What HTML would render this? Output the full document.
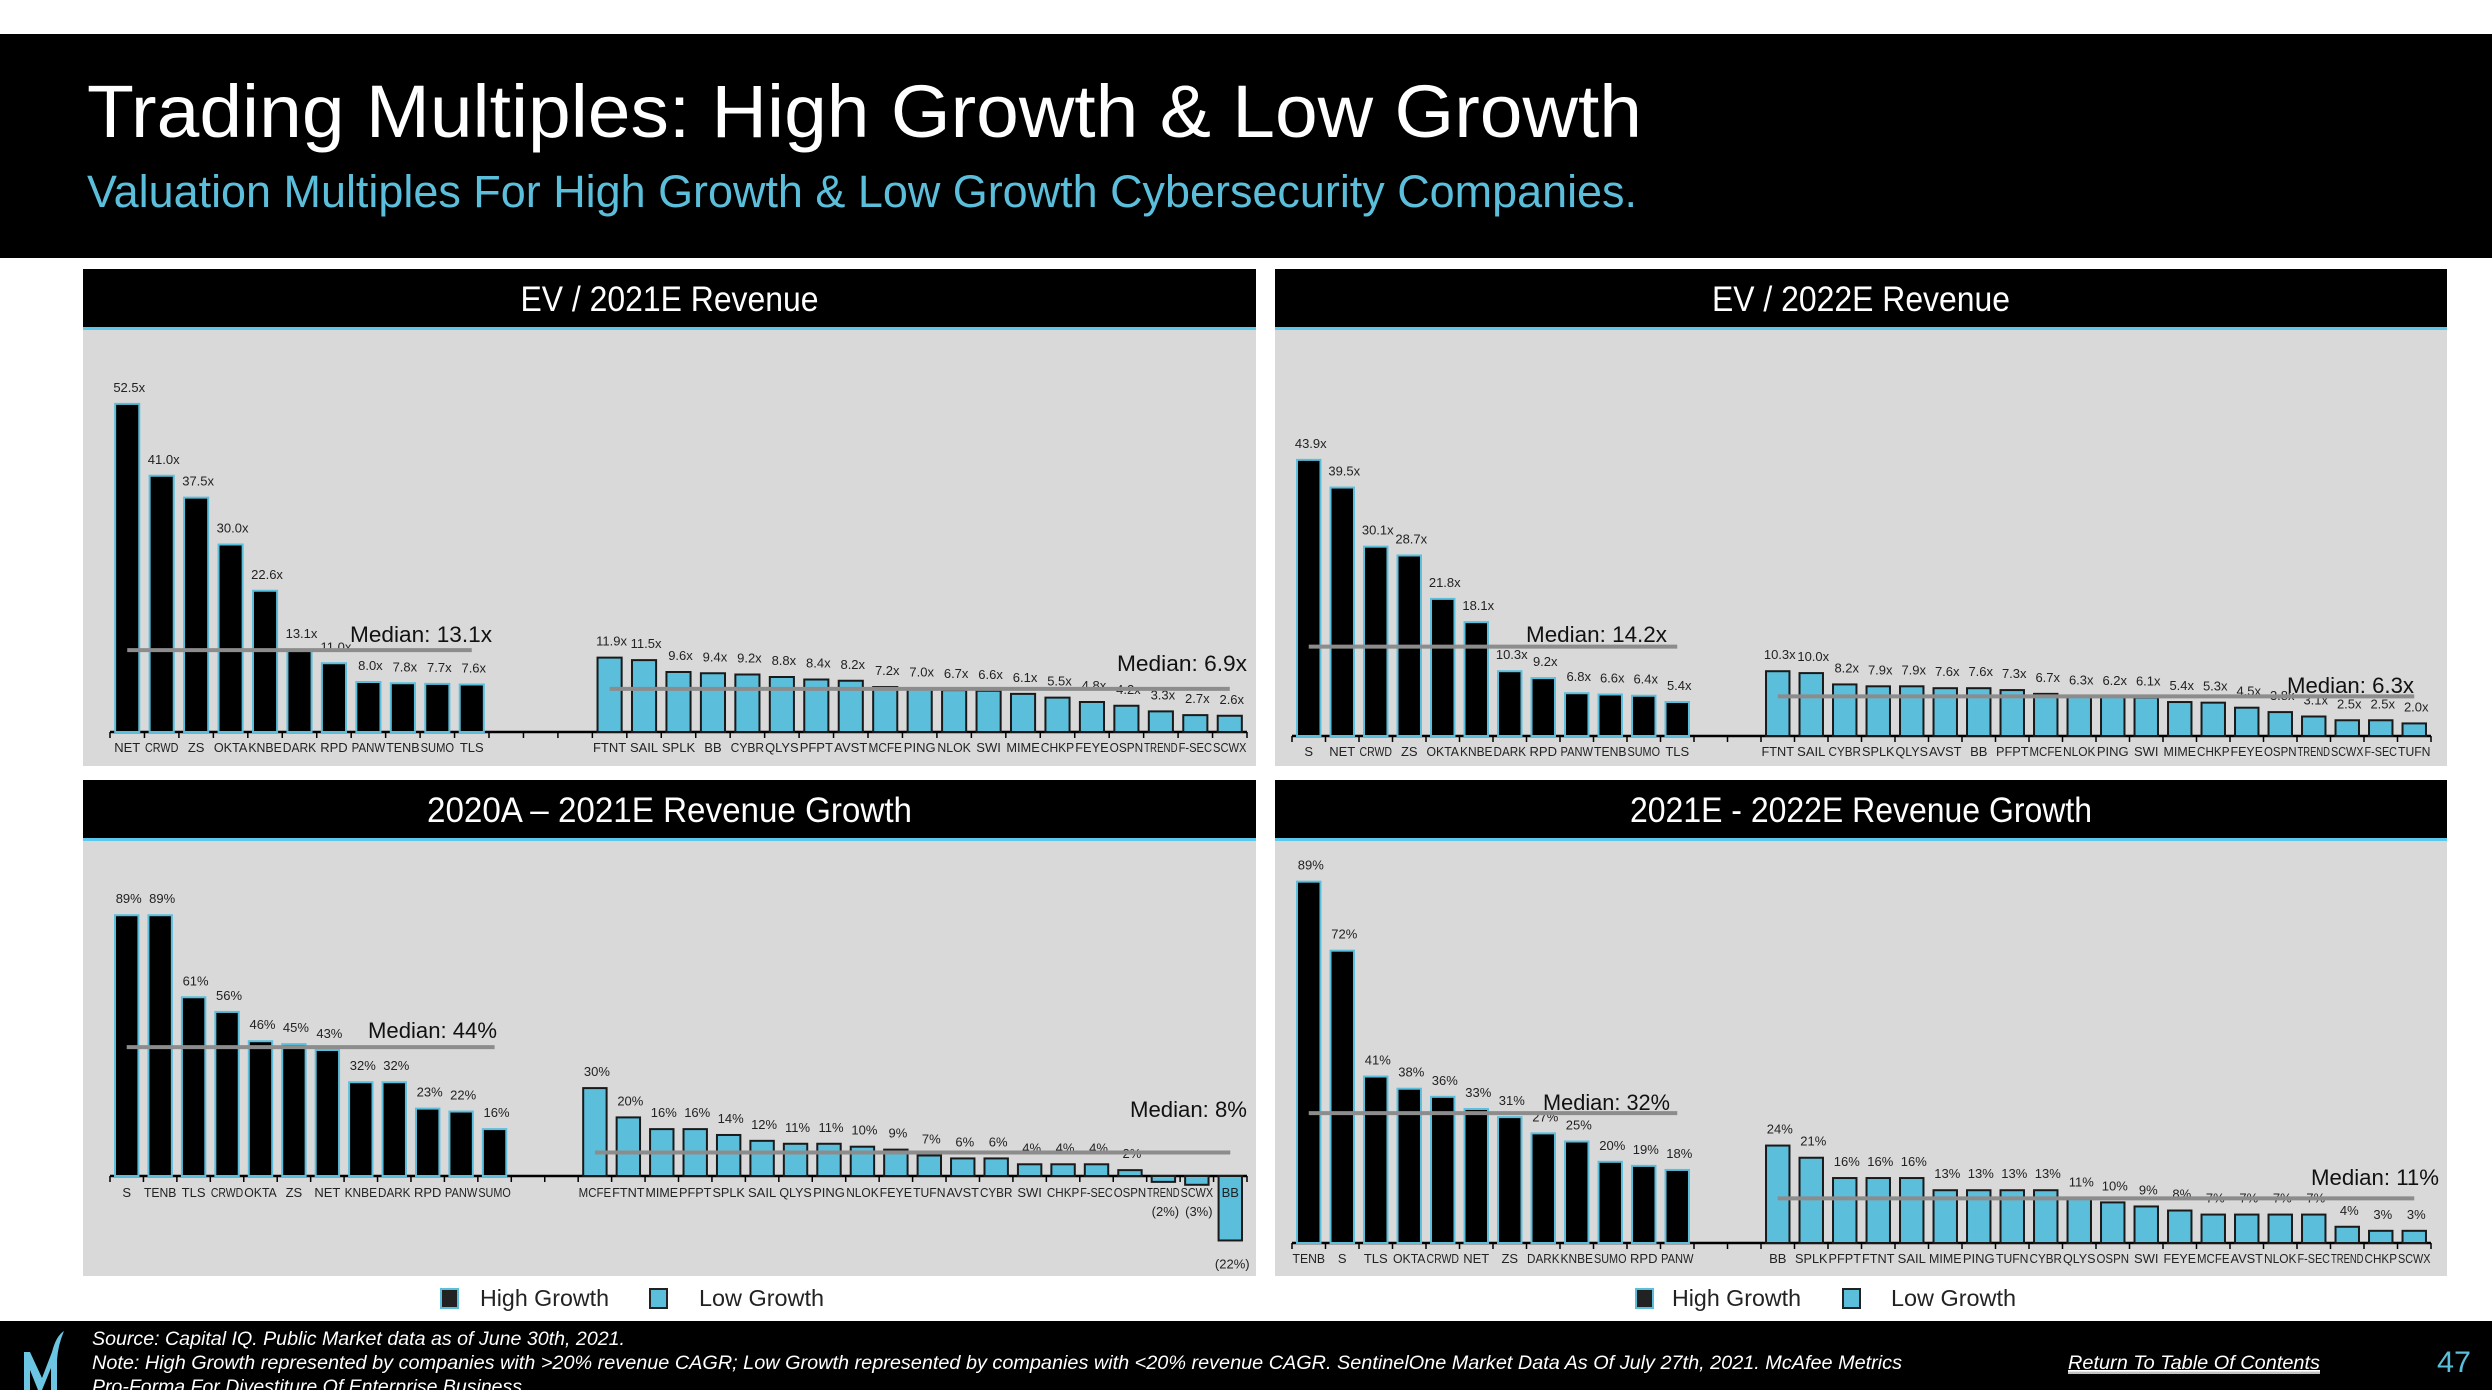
<!DOCTYPE html>
<html><head><meta charset="utf-8"><style>
html,body{margin:0;padding:0;background:#fff;}
svg{display:block;font-family:"Liberation Sans",sans-serif;}
</style></head>
<body>
<svg id="root" width="2492" height="1390" viewBox="0 0 2492 1390" xmlns="http://www.w3.org/2000/svg">
  <rect x="0" y="0" width="2492" height="1390" fill="#fff"/>
  <g>
    <rect x="0" y="34" width="2492" height="224" fill="#000"/>
    <text x="87" y="137" font-size="74" fill="#fff" textLength="1555" lengthAdjust="spacingAndGlyphs">Trading Multiples: High Growth &amp; Low Growth</text>
    <text x="87" y="207" font-size="45" fill="#5bbfdc" textLength="1550" lengthAdjust="spacingAndGlyphs">Valuation Multiples For High Growth &amp; Low Growth Cybersecurity Companies.</text>
  </g>
  <g id="panels"></g>
  <g>
    <rect x="441" y="1289" width="17" height="19" fill="#222" stroke="#5bbfdc" stroke-width="2"/>
    <text x="480" y="1306" font-size="23" fill="#222" textLength="129" lengthAdjust="spacingAndGlyphs">High Growth</text>
    <rect x="650" y="1289" width="17" height="19" fill="#5bbfdc" stroke="#222" stroke-width="2"/>
    <text x="699" y="1306" font-size="23" fill="#222" textLength="125" lengthAdjust="spacingAndGlyphs">Low Growth</text>
  </g>
  <g>
    <rect x="1636" y="1289" width="17" height="19" fill="#222" stroke="#5bbfdc" stroke-width="2"/>
    <text x="1672" y="1306" font-size="23" fill="#222" textLength="129" lengthAdjust="spacingAndGlyphs">High Growth</text>
    <rect x="1843" y="1289" width="17" height="19" fill="#5bbfdc" stroke="#222" stroke-width="2"/>
    <text x="1891" y="1306" font-size="23" fill="#222" textLength="125" lengthAdjust="spacingAndGlyphs">Low Growth</text>
  </g>
  <g>
    <rect x="0" y="1321" width="2492" height="69" fill="#000"/>
    <g>
      <path d="M24 1390 L24 1352 L30 1352 L42 1378 L52 1352 Q56 1336 64 1331 Q58 1345 57 1360 L57 1390 L51 1390 L51 1368 L42 1390 L38 1390 L30 1370 L30 1390 Z" fill="#6cc5e3"/>
    </g>
    <text x="92" y="1345" font-size="19" font-style="italic" fill="#fff" textLength="533" lengthAdjust="spacingAndGlyphs">Source: Capital IQ. Public Market data as of  June 30th, 2021.</text>
    <text x="92" y="1369" font-size="19" font-style="italic" fill="#fff" textLength="1810" lengthAdjust="spacingAndGlyphs">Note: High Growth represented by companies with &gt;20% revenue CAGR; Low Growth represented by companies with &lt;20% revenue CAGR. SentinelOne Market Data As Of July 27th, 2021. McAfee Metrics</text>
    <text x="92" y="1393" font-size="19" font-style="italic" fill="#fff" textLength="430" lengthAdjust="spacingAndGlyphs">Pro-Forma For Divestiture Of Enterprise Business</text>
    <text x="2068" y="1369" font-size="19" font-style="italic" fill="#fff" text-decoration="underline" textLength="252" lengthAdjust="spacingAndGlyphs">Return To Table Of Contents</text>
    <line x1="2068" y1="1373" x2="2320" y2="1373" stroke="#fff" stroke-width="1.5"/>
    <text x="2437" y="1372" font-size="30" fill="#5bbfdc" textLength="34" lengthAdjust="spacingAndGlyphs">47</text>
  </g>
</svg>
<script>
// ---- Data ----
const ev21HighCats = ["NET","CRWD","ZS","OKTA","KNBE","DARK","RPD","PANW","TENB","SUMO","TLS"];
const ev21HighVals = [52.5,41.0,37.5,30.0,22.6,13.1,11.0,8.0,7.8,7.7,7.6];
const ev21LowCats = ["FTNT","SAIL","SPLK","BB","CYBR","QLYS","PFPT","AVST","MCFE","PING","NLOK","SWI","MIME","CHKP","FEYE","OSPN","TREND","F-SEC","SCWX"];
const ev21LowVals = [11.9,11.5,9.6,9.4,9.2,8.8,8.4,8.2,7.2,7.0,6.7,6.6,6.1,5.5,4.8,4.2,3.3,2.7,2.6];
const ev21Medians = [13.1,6.9];

const ev22HighCats = ["S","NET","CRWD","ZS","OKTA","KNBE","DARK","RPD","PANW","TENB","SUMO","TLS"];
const ev22HighVals = [43.9,39.5,30.1,28.7,21.8,18.1,10.3,9.2,6.8,6.6,6.4,5.4];
const ev22LowCats = ["FTNT","SAIL","CYBR","SPLK","QLYS","AVST","BB","PFPT","MCFE","NLOK","PING","SWI","MIME","CHKP","FEYE","OSPN","TREND","SCWX","F-SEC","TUFN"];
const ev22LowVals = [10.3,10.0,8.2,7.9,7.9,7.6,7.6,7.3,6.7,6.3,6.2,6.1,5.4,5.3,4.5,3.8,3.1,2.5,2.5,2.0];
const ev22Medians = [14.2,6.3];

const g21HighCats = ["S","TENB","TLS","CRWD","OKTA","ZS","NET","KNBE","DARK","RPD","PANW","SUMO"];
const g21HighVals = [89,89,61,56,46,45,43,32,32,23,22,16];
const g21LowCats = ["MCFE","FTNT","MIME","PFPT","SPLK","SAIL","QLYS","PING","NLOK","FEYE","TUFN","AVST","CYBR","SWI","CHKP","F-SEC","OSPN","TREND","SCWX","BB"];
const g21LowVals = [30,20,16,16,14,12,11,11,10,9,7,6,6,4,4,4,2,-2,-3,-22];
const g21Medians = [44,8];

const g22HighCats = ["TENB","S","TLS","OKTA","CRWD","NET","ZS","DARK","KNBE","SUMO","RPD","PANW"];
const g22HighVals = [89,72,41,38,36,33,31,27,25,20,19,18];
const g22LowCats = ["BB","SPLK","PFPT","FTNT","SAIL","MIME","PING","TUFN","CYBR","QLYS","OSPN","SWI","FEYE","MCFE","AVST","NLOK","F-SEC","TREND","CHKP","SCWX"];
const g22LowVals = [24,21,16,16,16,13,13,13,13,11,10,9,8,7,7,7,7,4,3,3];
const g22Medians = [32,11];

const NS = "http://www.w3.org/2000/svg";
function mk(tag, attrs, parent){ const e=document.createElementNS(NS,tag); for(const k in attrs) e.setAttribute(k,attrs[k]); parent.appendChild(e); return e; }

const panels = [
 {name:"ev-2021e-revenue", title:"EV / 2021E Revenue", px:83, pw:1173, ty:269, bottom:766, tlen:298,
  ax0:110, ax1:1247, base:732, ppu:6.25, gap:3, hc:ev21HighCats, hv:ev21HighVals, lc:ev21LowCats, lv:ev21LowVals, med:ev21Medians, fmt:"x",
  mlab:[[350,642,142],[1117,671,130]], catY:752},
 {name:"ev-2022e-revenue", title:"EV / 2022E Revenue", px:1275, pw:1172, ty:269, bottom:766, tlen:298,
  ax0:1292, ax1:2431, base:736, ppu:6.29, gap:2, hc:ev22HighCats, hv:ev22HighVals, lc:ev22LowCats, lv:ev22LowVals, med:ev22Medians, fmt:"x",
  mlab:[[1526,642,141],[2287,693,127]], catY:756},
 {name:"revenue-growth-2020a-2021e", title:"2020A \u2013 2021E Revenue Growth", px:83, pw:1173, ty:780, bottom:1276, tlen:485,
  ax0:110, ax1:1247, base:1176, ppu:2.93, gap:2, hc:g21HighCats, hv:g21HighVals, lc:g21LowCats, lv:g21LowVals, med:g21Medians, fmt:"%",
  mlab:[[368,1038,129],[1130,1117,117]], catY:1197},
 {name:"revenue-growth-2021e-2022e", title:"2021E - 2022E Revenue Growth", px:1275, pw:1172, ty:780, bottom:1276, tlen:462,
  ax0:1292, ax1:2431, base:1243, ppu:4.06, gap:2, hc:g22HighCats, hv:g22HighVals, lc:g22LowCats, lv:g22LowVals, med:g22Medians, fmt:"%",
  mlab:[[1543,1110,127],[2311,1185,128]], catY:1263}
];

function fmtVal(v,f){
  if(f==="x") return v.toFixed(1)+"x";
  return v<0 ? "("+Math.abs(v)+"%)" : v+"%";
}

const root = document.getElementById("panels");
panels.forEach(p=>{
  const g = mk("g",{},root);
  
  
  mk("rect",{x:p.px,y:p.ty,width:p.pw,height:p.bottom-p.ty,fill:"#d9d9d9"},g);
  mk("rect",{x:p.px,y:p.ty,width:p.pw,height:58,fill:"#000"},g);
  mk("rect",{x:p.px,y:p.ty+58,width:p.pw,height:3,fill:"#5bc8ee"},g);
  const t = mk("text",{x:p.px+p.pw/2,y:p.ty+42,"font-size":35,fill:"#fff","text-anchor":"middle",textLength:p.tlen,lengthAdjust:"spacingAndGlyphs"},g);
  t.textContent = p.title;
  
  

  const cats = p.hc.concat(new Array(p.gap).fill(""), p.lc);
  const vals = p.hv.concat(new Array(p.gap).fill(null), p.lv);
  const n = cats.length;
  const slot = (p.ax1-p.ax0)/n;
  const xC = i => p.ax0 + (i+0.5)*slot;
  const yV = v => p.base - v*p.ppu;
  const bw = slot*0.7;

  // axis
  const ax = mk("line",{x1:p.ax0,y1:p.base,x2:p.ax1,y2:p.base,stroke:"#000","stroke-width":2.5},g);
  
  
  for(let i=0;i<=n;i++){
    mk("line",{x1:p.ax0+i*slot,y1:p.base,x2:p.ax0+i*slot,y2:p.base+6,stroke:"#000","stroke-width":1.5},g);
  }
  cats.forEach((c,i)=>{
    if(vals[i]===null) return;
    const v = vals[i];
    const high = i < p.hc.length;
    const y0 = Math.min(yV(v),p.base), h = Math.abs(v*p.ppu);
    const r = mk("rect",{x:xC(i)-bw/2,y:y0,width:bw,height:h,fill:high?"#000":"#5bbfdc",stroke:high?"#5bbfdc":"#1a1a1a","stroke-width":2},g);
    
    
    // category label
    const cl = mk("text",{x:xC(i),y:p.catY,"font-size":13,fill:"#222","text-anchor":"middle"},g);
    cl.textContent = c;
    
    
    const w = cl.getComputedTextLength();
    if(w > slot-1){ cl.setAttribute("textLength", slot-1); cl.setAttribute("lengthAdjust","spacingAndGlyphs"); }
    // value label
    const ly = v>=0 ? yV(v)-12 : Math.max(p.catY+18, yV(v)+ (v<-10?26:18));
    const vl = mk("text",{x:xC(i)+2,y:v>=0?ly:(v<-10?yV(v)+28:p.catY+19),"font-size":13,fill:"#222","text-anchor":"middle"},g);
    vl.textContent = fmtVal(v,p.fmt);
    
    
    const w2 = vl.getComputedTextLength();
    if(w2 > slot+2){ vl.setAttribute("textLength", slot+2); vl.setAttribute("lengthAdjust","spacingAndGlyphs"); }
  });
  // medians
  const ranges = [[0,p.hc.length-1],[p.hc.length+p.gap, n-1]];
  p.med.forEach((m,k)=>{
    const ml = mk("line",{x1:xC(ranges[k][0]),y1:yV(m),x2:xC(ranges[k][1]),y2:yV(m),stroke:"#8c8c8c","stroke-width":4},g);
    
    
    const L = p.mlab[k];
    const mt = mk("text",{x:L[0],y:L[1],"font-size":22,fill:"#111",textLength:L[2],lengthAdjust:"spacingAndGlyphs"},g);
    mt.textContent = "Median: " + (p.fmt==="x" ? m.toFixed(1)+"x" : m+"%");
    
    
  });
});
</script>
</body></html>
